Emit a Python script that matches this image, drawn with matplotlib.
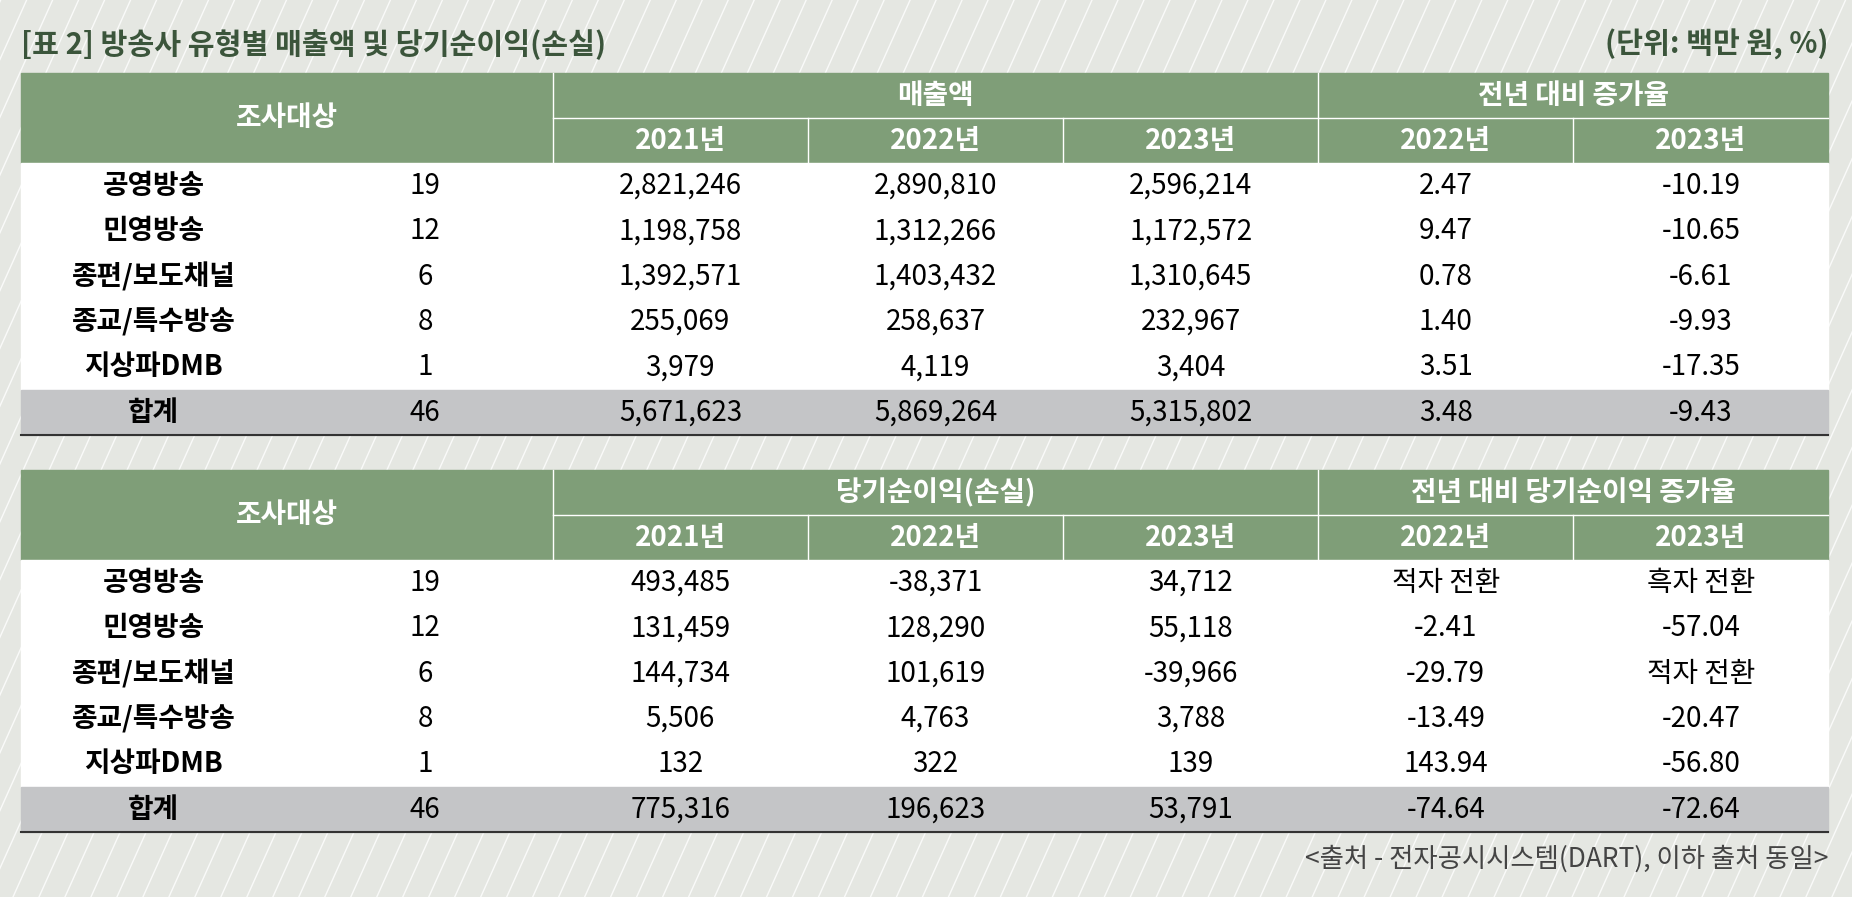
import numpy as np
import matplotlib.pyplot as plt

plt.rcParams['font.family'] = ['Noto Sans CJK KR', 'DejaVu Sans']

names = ["공영방송", "민영방송", "종편/보도채널", "종교/특수방송", "지상파DMB", "합계"]
counts = ["19", "12", "6", "8", "1", "46"]
years = ["2021년", "2022년", "2023년", "2022년", "2023년"]

sales = [["2,821,246", "2,890,810", "2,596,214", "2.47", "-10.19"],
         ["1,198,758", "1,312,266", "1,172,572", "9.47", "-10.65"],
         ["1,392,571", "1,403,432", "1,310,645", "0.78", "-6.61"],
         ["255,069", "258,637", "232,967", "1.40", "-9.93"],
         ["3,979", "4,119", "3,404", "3.51", "-17.35"],
         ["5,671,623", "5,869,264", "5,315,802", "3.48", "-9.43"]]

profit = [["493,485", "-38,371", "34,712", "적자 전환", "흑자 전환"],
          ["131,459", "128,290", "55,118", "-2.41", "-57.04"],
          ["144,734", "101,619", "-39,966", "-29.79", "적자 전환"],
          ["5,506", "4,763", "3,788", "-13.49", "-20.47"],
          ["132", "322", "139", "143.94", "-56.80"],
          ["775,316", "196,623", "53,791", "-74.64", "-72.64"]]

W, H = 1568, 759
fig = plt.figure(figsize=(18.52, 8.97), dpi=100)
ax = fig.add_axes([0, 0, 1, 1])
ax.set_xlim(0, W)
ax.set_ylim(H, 0)
ax.axis('off')

bg = '#e5e7e2'
green = '#7f9e78'
dark = '#3b553b'
gray = '#c4c5c7'
fs = 20
ax.add_patch(plt.Rectangle((0, 0), W, H, color=bg, zorder=0))
for s in np.arange(-H, W + H, 22):
    ax.plot([s, s + H * 0.45], [H, 0], color='white', lw=1.0, alpha=0.8, zorder=0.5)

ax.text(18, 38, "[표 2] 방송사 유형별 매출액 및 당기순이익(손실)", fontsize=21, fontweight='bold',
        color=dark, va='center', ha='left')
ax.text(1548, 38, "(단위: 백만 원, %)", fontsize=21, fontweight='bold', color=dark, va='center', ha='right')

left, right = 18, 1548
bounds = [468, 684, 900, 1116, 1332, 1548]
rh = 38.4


def draw_table(top, group1, group2, rows):
    hb = top + 76
    ax.add_patch(plt.Rectangle((left, top), right - left, 76, color=green, zorder=1))
    ax.plot([468, right], [top + 38, top + 38], color='white', lw=1, zorder=2)
    for b in bounds[:-1]:
        ax.plot([b, b], [top if b in (468, 1116) else top + 38, hb], color='white', lw=1, zorder=2)
    ax.text((left + 468) / 2, top + 38, "조사대상", color='white', fontsize=fs, fontweight='bold',
            ha='center', va='center', zorder=3)
    ax.text((468 + 1116) / 2, top + 19, group1, color='white', fontsize=fs, fontweight='bold',
            ha='center', va='center', zorder=3)
    ax.text((1116 + right) / 2, top + 19, group2, color='white', fontsize=fs, fontweight='bold',
            ha='center', va='center', zorder=3)
    for i, y in enumerate(years):
        ax.text((bounds[i] + bounds[i + 1]) / 2, top + 57, y, color='white', fontsize=fs,
                fontweight='bold', ha='center', va='center', zorder=3)
    for r, row in enumerate(rows):
        y0 = hb + r * rh
        c = gray if r == len(rows) - 1 else 'white'
        ax.add_patch(plt.Rectangle((left, y0), right - left, rh, color=c, zorder=1))
        yc = y0 + rh / 2
        ax.text(130, yc, names[r], fontsize=fs, fontweight='bold', ha='center', va='center', zorder=3)
        ax.text(360, yc, counts[r], fontsize=fs, ha='center', va='center', zorder=3)
        for i, v in enumerate(row):
            ax.text((bounds[i] + bounds[i + 1]) / 2, yc, v, fontsize=fs, ha='center', va='center', zorder=3)
    ax.plot([left, right], [hb + rh * len(rows)] * 2, color='#333333', lw=1.5, zorder=2)


draw_table(62, "매출액", "전년 대비 증가율", sales)
draw_table(398, "당기순이익(손실)", "전년 대비 당기순이익 증가율", profit)

ax.text(1548, 727, "<출처 - 전자공시시스템(DART), 이하 출처 동일>", fontsize=19, color='#444444',
        ha='right', va='center')

fig.savefig("out.png", dpi=100)
